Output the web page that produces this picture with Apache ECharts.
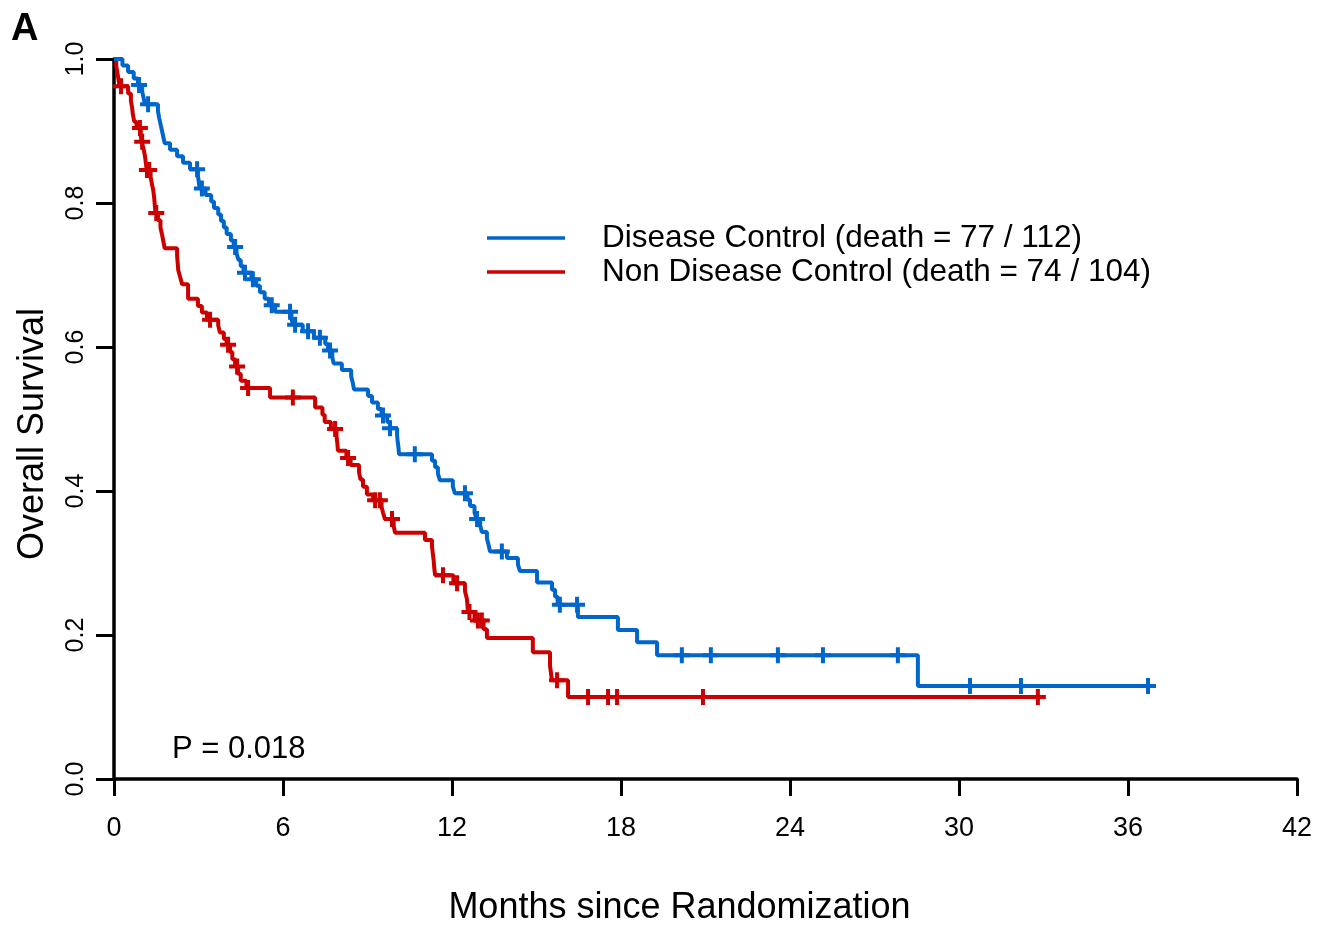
<!DOCTYPE html>
<html>
<head>
<meta charset="utf-8">
<script src="https://cdn.jsdelivr.net/npm/echarts@6/dist/echarts.min.js"></script>
<style>
  html, body { margin: 0; padding: 0; background: #fff; }
  #main { width: 1334px; height: 927px; }
</style>
</head>
<body>
<div id="main"></div>
<script>
// Disease Control: step times (months) and survival after each step
const dcTime = [0, 0.3, 0.5, 0.7, 0.85, 1.0, 1.05, 1.1, 1.56, 1.6, 1.65, 1.7, 1.75, 1.8, 1.99, 2.24, 2.45, 2.7,
  2.98, 3.01, 3.04, 3.25, 3.45, 3.55, 3.7, 3.8, 3.9, 4.0, 4.15, 4.25, 4.35, 4.42, 4.5, 4.6, 4.88, 5.05, 5.18,
  5.35, 5.5, 5.72, 6.3, 6.35, 6.7, 7.1, 7.5, 7.6, 7.75, 7.8, 8.09, 8.42, 8.48, 8.52, 9.02, 9.16, 9.37, 9.5,
  9.7, 9.8, 10.05, 10.07, 10.1, 10.12, 11.29, 11.4, 11.5, 11.57, 12.03, 12.1, 12.55, 12.64, 12.8, 12.87,
  13.0, 13.06, 13.24, 13.3, 13.35, 13.95, 14.34, 14.41, 15.02, 15.55, 15.66, 15.75, 16.47, 17.89, 18.57,
  19.28, 28.54]
const dcSurv = [1, 0.991, 0.982, 0.973, 0.964, 0.955, 0.946, 0.937, 0.928, 0.919, 0.910, 0.901, 0.892, 0.883,
  0.874, 0.865, 0.856, 0.847, 0.838, 0.829, 0.820, 0.811, 0.802, 0.793, 0.784, 0.775, 0.766, 0.757, 0.748,
  0.739, 0.730, 0.721, 0.712, 0.703, 0.694, 0.685, 0.676, 0.667, 0.658, 0.649, 0.640, 0.631, 0.622, 0.613,
  0.604, 0.595, 0.586, 0.577, 0.568, 0.559, 0.550, 0.541, 0.532, 0.523, 0.514, 0.505, 0.496, 0.487, 0.478,
  0.469, 0.460, 0.451, 0.442, 0.433, 0.424, 0.415, 0.406, 0.397, 0.388, 0.379, 0.370, 0.361, 0.352, 0.343,
  0.334, 0.325, 0.316, 0.307, 0.298, 0.289, 0.273, 0.263, 0.253, 0.242, 0.225, 0.207, 0.190, 0.172, 0.129]
const dcCensor = [0.89, 1.21, 2.95, 3.12, 4.3, 4.65, 4.93, 5.6, 6.25, 6.43, 6.89, 7.31, 7.67, 9.55, 9.8, 10.68,
  12.46, 12.89, 13.77, 15.83, 16.44, 20.16, 21.19, 23.57, 25.17, 27.83, 30.39, 32.2, 36.71]
const dcEnd = 36.71

// Non Disease Control
const ndcTime = [0, 0.08, 0.12, 0.16, 0.2, 0.5, 0.6, 0.64, 0.67, 0.72, 0.8, 0.95, 0.98, 1.05, 1.1, 1.13, 1.16,
  1.3, 1.35, 1.4, 1.43, 1.45, 1.47, 1.56, 1.65, 1.7, 1.75, 1.8, 2.24, 2.26, 2.28, 2.35, 2.42, 2.63, 2.98,
  3.12, 3.3, 3.7, 3.76, 3.9, 4.0, 4.12, 4.2, 4.3, 4.4, 4.5, 4.7, 5.54, 7.14, 7.4, 7.48, 7.7, 7.9, 7.93, 7.95,
  8.25, 8.4, 8.7, 8.75, 8.84, 8.98, 9.2, 9.5, 9.55, 9.62, 9.93, 9.98, 11.04, 11.29, 11.32, 11.35, 11.37,
  11.4, 12.05, 12.46, 12.53, 12.55, 12.57, 12.8, 13.12, 13.24, 14.87, 15.48, 15.55, 16.12]
const ndcSurv = [1, 0.990, 0.981, 0.971, 0.962, 0.952, 0.942, 0.933, 0.923, 0.913, 0.904, 0.894, 0.885, 0.875,
  0.865, 0.856, 0.846, 0.836, 0.826, 0.816, 0.806, 0.796, 0.786, 0.776, 0.766, 0.757, 0.747, 0.737, 0.727,
  0.717, 0.707, 0.697, 0.687, 0.667, 0.657, 0.648, 0.638, 0.630, 0.620, 0.611, 0.603, 0.593, 0.583, 0.573,
  0.563, 0.553, 0.543, 0.530, 0.516, 0.506, 0.496, 0.486, 0.476, 0.466, 0.456, 0.446, 0.436, 0.426, 0.416,
  0.406, 0.395, 0.387, 0.378, 0.370, 0.361, 0.351, 0.342, 0.332, 0.323, 0.313, 0.303, 0.293, 0.283, 0.272,
  0.261, 0.250, 0.241, 0.232, 0.220, 0.208, 0.196, 0.176, 0.157, 0.137, 0.114]
const ndcCensor = [0.25, 0.92, 1.0, 1.17, 1.25, 1.5, 3.41, 4.05, 4.37, 4.76, 6.35, 7.85, 8.31, 9.27, 9.44, 9.87,
  11.68, 12.18, 12.62, 12.92, 13.06, 15.73, 16.83, 17.54, 17.86, 20.91, 32.8]
const ndcEnd = 32.8

const groupNames = ['Disease Control (death = 77 / 112)', 'Non Disease Control (death = 74 / 104)']
const xTicks = [0, 6, 12, 18, 24, 30, 36, 42]
const pText = 'P = 0.018'

const BLUE = '#0066cc'
const RED = '#cc0000'
const FONT = '"Liberation Sans", Arial, Helvetica, sans-serif'

function curve (times, surv, end) {
  const pts = times.map((t, i) => [t, surv[i]])
  pts.push([end, surv[surv.length - 1]])
  return pts
}

// survival value at time t, read from the step arrays
function survAt (times, surv, t) {
  let s = surv[0]
  for (let i = 0; i < times.length; i++) {
    if (times[i] <= t) s = surv[i]
  }
  return s
}

function marks (censor, times, surv) {
  return censor.map(t => [t, survAt(times, surv, t)])
}

const plusSymbol = 'path://M6,0H10V6H16V10H10V16H6V10H0V6H6Z'

const chart = echarts.init(document.getElementById('main'))

const option = {
  animation: false,
  backgroundColor: '#fff',
  textStyle: { fontFamily: FONT, color: '#000' },
  grid: { left: 114, right: 37, top: 59, bottom: 148, outerBoundsMode: 'none', containLabel: false },
  legend: {
    data: groupNames,
    orient: 'vertical',
    left: 487,
    top: 222,
    padding: 0,
    icon: 'rect',
    itemWidth: 78,
    itemHeight: 3.5,
    itemGap: 2,
    textStyle: { fontFamily: FONT, fontSize: 31.5, color: '#000', padding: [0, 0, 0, 32] }
  },
  xAxis: {
    type: 'value',
    min: xTicks[0],
    max: xTicks[xTicks.length - 1],
    interval: 6,
    name: 'Months since Randomization',
    nameLocation: 'middle',
    nameGap: 111,
    nameTextStyle: { fontFamily: FONT, fontSize: 36, color: '#000', padding: [0, 52, 0, 0] },
    axisLine: { show: true, lineStyle: { color: '#000', width: 3.5 } },
    axisTick: { show: true, length: 17, lineStyle: { color: '#000', width: 3 } },
    axisLabel: { margin: 36, fontFamily: FONT, fontSize: 27, color: '#000' },
    splitLine: { show: false }
  },
  yAxis: {
    type: 'value',
    min: 0,
    max: 1,
    interval: 0.2,
    name: 'Overall Survival',
    nameLocation: 'middle',
    nameRotate: 90,
    nameGap: 63,
    nameTextStyle: { fontFamily: FONT, fontSize: 36, color: '#000', padding: [0, 30, 0, 0] },
    axisLine: { show: true, lineStyle: { color: '#000', width: 3.5 } },
    axisTick: { show: true, length: 18, lineStyle: { color: '#000', width: 3 } },
    axisLabel: {
      margin: 25,
      rotate: 90,
      fontFamily: FONT,
      fontSize: 25,
      color: '#000',
      formatter: v => v.toFixed(1)
    },
    splitLine: { show: false }
  },
  graphic: [
    {
      type: 'text',
      left: 11,
      top: 11,
      style: { text: 'A', fontFamily: FONT, fontSize: 38, fontWeight: 'bold', fill: '#000' }
    },
    {
      type: 'text',
      left: 172,
      top: 734,
      style: { text: pText, fontFamily: FONT, fontSize: 31, fill: '#000' }
    }
  ],
  series: [
    {
      name: groupNames[0],
      type: 'line',
      step: 'end',
      showSymbol: false,
      color: BLUE,
      lineStyle: { width: 4, color: BLUE },
      data: curve(dcTime, dcSurv, dcEnd),
      z: 3
    },
    {
      name: groupNames[1],
      type: 'line',
      step: 'end',
      showSymbol: false,
      color: RED,
      lineStyle: { width: 4, color: RED },
      data: curve(ndcTime, ndcSurv, ndcEnd),
      z: 2
    },
    {
      name: 'dc censored',
      type: 'scatter',
      symbol: plusSymbol,
      symbolSize: 16,
      itemStyle: { color: BLUE, opacity: 1 },
      silent: true,
      data: marks(dcCensor, dcTime, dcSurv),
      z: 4
    },
    {
      name: 'ndc censored',
      type: 'scatter',
      symbol: plusSymbol,
      symbolSize: 16,
      itemStyle: { color: RED, opacity: 1 },
      silent: true,
      data: marks(ndcCensor, ndcTime, ndcSurv),
      z: 4
    }
  ]
}

chart.setOption(option)
</script>
</body>
</html>
